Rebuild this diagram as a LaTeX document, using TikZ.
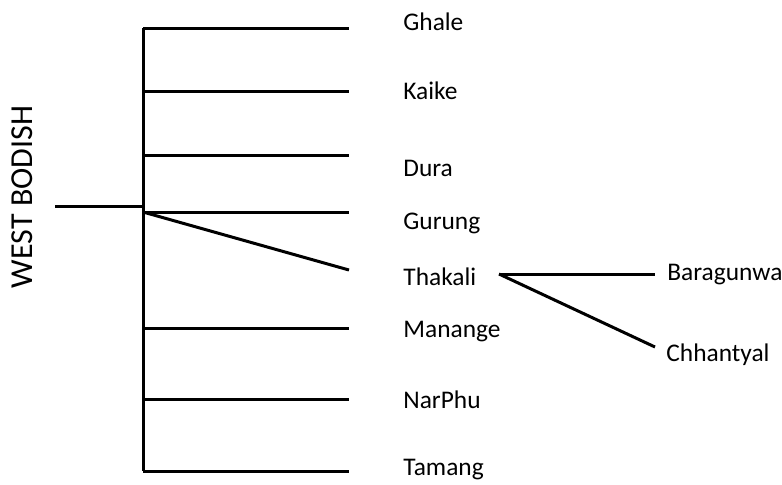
\documentclass[tikz,border=0pt]{standalone}
\usepackage{fontspec}
\setmainfont{Carlito}
\tikzset{
  branch/.style={line width=1.5pt, line cap=butt},
  lang/.style={anchor=west, inner sep=0pt, font=\fontsize{12.7}{14}\selectfont},
  group/.style={rotate=90, inner sep=0pt, font=\fontsize{16}{18}\selectfont}
}
\begin{document}
\begin{tikzpicture}[x=0.5pt, y=-0.5pt]
  \useasboundingbox (0,0) rectangle (782,484);

  % Gruppe und Stamm
  \node[group] (wb) at (22,197) {WEST BODISH};
  \coordinate (root) at (55,206);
  \coordinate (stem) at (143,206);
  \coordinate (top) at (143,28);
  \coordinate (bot) at (143,471);
  \draw[branch] (root) -- (stem);
  \draw[branch] (top) -- (bot);

  % Sprachen
  \node[lang] (ghale) at (403,22) {Ghale};
  \node[lang] (kaike) at (403,91) {Kaike};
  \node[lang] (dura) at (403,168) {Dura};
  \node[lang] (gurung) at (403,223) {Gurung};
  \node[lang] (thakali) at (403,277) {Thakali};
  \node[lang] (manange) at (403,332) {Manange};
  \node[lang] (narphu) at (403,400) {NarPhu};
  \node[lang] (tamang) at (403,470) {Tamang};

  % Zweige
  \foreach \y in {28,91,155,212,328,399,471}
    \draw[branch] (143,\y) -- (349,\y);
  \coordinate (thk) at (349,270);
  \draw[branch] (143,212) -- (thk);

  % Thakali-Untergruppe
  \coordinate (sub) at (499,274);
  \coordinate (bara) at (655,274);
  \coordinate (chha) at (655,347);
  \draw[branch] (sub) -- (bara);
  \draw[branch] (sub) -- (chha);
  \node[lang] (baragunwa) at (667,275) {Baragunwa};
  \node[lang] (chhantyal) at (666,355) {Chhantyal};
\end{tikzpicture}
\end{document}
